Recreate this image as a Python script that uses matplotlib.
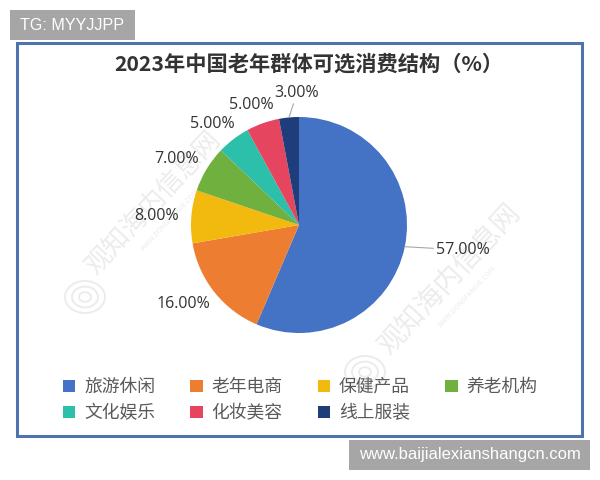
import matplotlib
matplotlib.use("Agg")
import matplotlib.pyplot as plt
import numpy as np
from matplotlib.patches import Rectangle, Circle

plt.rcParams['font.family'] = ['Noto Sans CJK SC', 'DejaVu Sans']

categories = ["旅游休闲", "老年电商", "保健产品", "养老机构", "文化娱乐", "化妆美容", "线上服装"]
values = [57, 16, 8, 7, 5, 5, 3]
colors = ["#4472c4", "#ed7d31", "#f2b90f", "#70b03f", "#2cbfa9", "#e5455f", "#1f3d7a"]
title = "2023年中国老年群体可选消费结构（%）"

W, H = 600, 480
# label centres in pixels, same order as values
label_px = [(463, 250), (183, 304), (157, 216), (177, 159), (212, 124), (251, 105), (297, 93)]


def fx(x):
    return x / W


def fy(y):
    return 1 - y / H


def box(x0, y0, x1, y1, **kw):
    fig.add_artist(Rectangle((fx(x0), fy(y1)), (x1 - x0) / W, (y1 - y0) / H,
                             transform=fig.transFigure, **kw))


fig = plt.figure(figsize=(6, 4.8), dpi=100)

# outer frame
box(17, 43, 582, 436, facecolor="white", edgecolor="#4f74ad", linewidth=2.2, zorder=-1)

# watermarks
wm = "#ececec"
for x, y, s in [(153, 203, 19), (450, 280, 20)]:
    fig.text(fx(x), fy(y), "观知海内信息网", fontsize=s, color=wm, rotation=47,
             ha="center", va="center")
    fig.text(fx(x + 17), fy(y + 17), "WWW.DONGFANGIE.COM", fontsize=5, color=wm,
             rotation=47, ha="center", va="center")
for x, y in [(85, 297), (365, 372)]:
    for r in (20, 13, 6):
        fig.add_artist(Circle((fx(x), fy(y)), r / W, transform=fig.transFigure,
                              fill=False, edgecolor=wm, linewidth=1.4))

# pie: radius 108 px, default limits are +-1.25
size = 270
ax = fig.add_axes([fx(299 - size / 2), fy(225 + size / 2), size / W, size / H], zorder=5)
ax.patch.set_visible(False)
wedges, _ = ax.pie(values, colors=colors, startangle=90, counterclock=False)
ax.set_xlim(-1.25, 1.25)
ax.set_ylim(-1.25, 1.25)

for i, (w, (lx, ly)) in enumerate(zip(wedges, label_px)):
    ang = np.deg2rad((w.theta1 + w.theta2) / 2)
    text = "%.2f%%" % values[i]
    # only the two far labels get a leader line
    if i in (0, 6):
        ax.annotate(text, xy=(np.cos(ang), np.sin(ang)), xycoords="data",
                    xytext=(fx(lx), fy(ly)), textcoords="figure fraction",
                    ha="center", va="center", fontsize=11.5, family="Open Sans",
                    color="#333333", annotation_clip=False,
                    arrowprops=dict(arrowstyle="-", color="#a6a6a6", lw=0.8, shrinkA=0, shrinkB=0))
    else:
        fig.text(fx(lx), fy(ly), text, ha="center", va="center", fontsize=11.5,
                 family="Open Sans", color="#333333")

fig.text(fx(309), fy(64), title, ha="center", va="center", fontsize=15.3,
         fontweight="bold", color="#333333")

# legend fills by column, so reorder to read across the rows
order = [0, 4, 1, 5, 2, 6, 3]
fig.legend([wedges[i] for i in order], [categories[i] for i in order], ncol=4,
           loc="upper left", bbox_to_anchor=(fx(47), fy(362)), frameon=False,
           fontsize=12.8, labelcolor="#595959", handlelength=0.7, handleheight=0.7,
           handletextpad=0.5, columnspacing=1.97, labelspacing=0.45)

# grey stamp boxes
box(10, 10, 135, 40, facecolor="#a6a6a6", edgecolor="none")
fig.text(fx(20), fy(25.5), "TG: MYYJJPP", fontsize=11.6, color="white", va="center",
         family="Liberation Sans")
box(349, 440, 590, 470, facecolor="#a6a6a6", edgecolor="none")
fig.text(fx(469.5), fy(455), "www.baijialexianshangcn.com", fontsize=12, color="white",
         ha="center", va="center", family="Liberation Sans")

fig.savefig("out.png", dpi=100)
